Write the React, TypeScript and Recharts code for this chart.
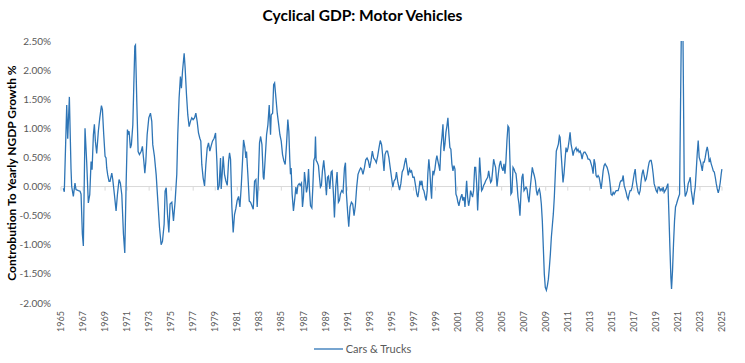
import { LineChart, Line, XAxis, YAxis, ReferenceLine } from 'recharts';

// decimal year of each observation
const dates = [
  1965.21, 1965.30, 1965.52, 1965.61, 1965.76, 1965.91, 1965.97, 1966.12, 1966.27, 1966.36,
  1966.58, 1966.73, 1966.82, 1966.94, 1967.03, 1967.18, 1967.33, 1967.48, 1967.61, 1967.73,
  1967.82, 1967.94, 1968.03, 1968.12, 1968.24, 1968.39, 1968.52, 1968.67, 1968.76, 1968.88,
  1969.00, 1969.09, 1969.15, 1969.24, 1969.36, 1969.45, 1969.61, 1969.70, 1969.85, 1970.00,
  1970.12, 1970.27, 1970.39, 1970.52, 1970.67, 1970.79, 1970.91, 1971.03, 1971.12, 1971.18,
  1971.30, 1971.39, 1971.52, 1971.61, 1971.70, 1971.76, 1971.88, 1972.00, 1972.12, 1972.27,
  1972.39, 1972.52, 1972.61, 1972.70, 1972.82, 1972.97, 1973.12, 1973.24, 1973.33, 1973.48,
  1973.64, 1973.79, 1973.94, 1974.09, 1974.21, 1974.36, 1974.45, 1974.55, 1974.67, 1974.79,
  1974.90, 1975.06, 1975.21, 1975.36, 1975.51, 1975.60, 1975.72, 1975.84, 1975.93, 1976.03,
  1976.18, 1976.27, 1976.39, 1976.51, 1976.63, 1976.75, 1976.87, 1976.99, 1977.12, 1977.24,
  1977.36, 1977.48, 1977.60, 1977.69, 1977.78, 1977.90, 1978.03, 1978.15, 1978.27, 1978.39,
  1978.51, 1978.63, 1978.75, 1978.90, 1979.03, 1979.15, 1979.24, 1979.36, 1979.48, 1979.54,
  1979.63, 1979.72, 1979.84, 1979.96, 1980.09, 1980.21, 1980.30, 1980.39, 1980.51, 1980.63,
  1980.75, 1980.87, 1980.99, 1981.12, 1981.24, 1981.36, 1981.48, 1981.57, 1981.69, 1981.78,
  1981.84, 1981.96, 1982.09, 1982.21, 1982.33, 1982.45, 1982.57, 1982.69, 1982.81, 1982.93,
  1983.02, 1983.12, 1983.24, 1983.36, 1983.42, 1983.54, 1983.66, 1983.78, 1983.90, 1984.02,
  1984.08, 1984.21, 1984.30, 1984.39, 1984.51, 1984.63, 1984.75, 1984.87, 1984.99, 1985.11,
  1985.23, 1985.35, 1985.47, 1985.59, 1985.68, 1985.77, 1985.83, 1985.89, 1985.98, 1986.10,
  1986.23, 1986.32, 1986.41, 1986.50, 1986.62, 1986.71, 1986.83, 1986.92, 1987.01, 1987.10,
  1987.19, 1987.28, 1987.37, 1987.47, 1987.56, 1987.65, 1987.77, 1987.86, 1987.95, 1988.04,
  1988.10, 1988.16, 1988.25, 1988.37, 1988.46, 1988.55, 1988.64, 1988.73, 1988.85, 1988.97,
  1989.09, 1989.19, 1989.28, 1989.40, 1989.52, 1989.61, 1989.73, 1989.82, 1989.94, 1990.06,
  1990.18, 1990.27, 1990.36, 1990.48, 1990.60, 1990.73, 1990.82, 1990.91, 1991.03, 1991.12,
  1991.24, 1991.36, 1991.48, 1991.60, 1991.72, 1991.84, 1991.96, 1992.08, 1992.20, 1992.29,
  1992.41, 1992.54, 1992.66, 1992.78, 1992.90, 1993.02, 1993.14, 1993.26, 1993.38, 1993.50,
  1993.62, 1993.74, 1993.86, 1993.98, 1994.10, 1994.19, 1994.32, 1994.41, 1994.53, 1994.64,
  1994.76, 1994.88, 1995.00, 1995.12, 1995.24, 1995.36, 1995.45, 1995.58, 1995.73, 1995.85,
  1995.97, 1996.09, 1996.21, 1996.30, 1996.42, 1996.52, 1996.64, 1996.73, 1996.82, 1996.94,
  1997.06, 1997.18, 1997.30, 1997.39, 1997.48, 1997.58, 1997.67, 1997.76, 1997.85, 1997.94,
  1998.06, 1998.15, 1998.24, 1998.30, 1998.39, 1998.48, 1998.58, 1998.64, 1998.70, 1998.76,
  1998.85, 1998.94, 1999.03, 1999.12, 1999.21, 1999.30, 1999.39, 1999.48, 1999.58, 1999.67,
  1999.76, 1999.85, 1999.94, 2000.03, 2000.12, 2000.21, 2000.30, 2000.39, 2000.48, 2000.58,
  2000.67, 2000.76, 2000.85, 2000.94, 2001.03, 2001.12, 2001.21, 2001.30, 2001.39, 2001.48,
  2001.58, 2001.67, 2001.76, 2001.82, 2001.91, 2002.00, 2002.09, 2002.18, 2002.27, 2002.36,
  2002.45, 2002.55, 2002.64, 2002.73, 2002.82, 2002.91, 2003.00, 2003.09, 2003.18, 2003.27,
  2003.36, 2003.45, 2003.55, 2003.64, 2003.73, 2003.82, 2003.91, 2004.00, 2004.09, 2004.18,
  2004.27, 2004.36, 2004.45, 2004.58, 2004.70, 2004.79, 2004.90, 2005.00, 2005.12, 2005.21,
  2005.30, 2005.39, 2005.48, 2005.57, 2005.66, 2005.75, 2005.84, 2005.93, 2006.03, 2006.12,
  2006.21, 2006.30, 2006.39, 2006.48, 2006.57, 2006.66, 2006.75, 2006.84, 2006.93, 2007.03,
  2007.12, 2007.21, 2007.30, 2007.39, 2007.48, 2007.57, 2007.69, 2007.78, 2007.87, 2007.96,
  2008.06, 2008.15, 2008.24, 2008.33, 2008.42, 2008.51, 2008.60, 2008.69, 2008.78, 2008.87,
  2008.96, 2009.06, 2009.15, 2009.24, 2009.33, 2009.42, 2009.51, 2009.60, 2009.69, 2009.78,
  2009.87, 2009.96, 2010.06, 2010.15, 2010.24, 2010.30, 2010.39, 2010.48, 2010.57, 2010.66,
  2010.75, 2010.84, 2010.93, 2011.03, 2011.12, 2011.21, 2011.30, 2011.39, 2011.48, 2011.57,
  2011.66, 2011.75, 2011.84, 2011.93, 2012.03, 2012.12, 2012.21, 2012.30, 2012.39, 2012.48,
  2012.57, 2012.66, 2012.75, 2012.84, 2012.93, 2013.03, 2013.12, 2013.21, 2013.30, 2013.39,
  2013.48, 2013.57, 2013.66, 2013.75, 2013.84, 2013.93, 2014.03, 2014.12, 2014.21, 2014.30,
  2014.39, 2014.48, 2014.57, 2014.66, 2014.75, 2014.84, 2014.93, 2015.03, 2015.12, 2015.21,
  2015.30, 2015.39, 2015.48, 2015.57, 2015.66, 2015.75, 2015.84, 2015.93, 2016.03, 2016.12,
  2016.21, 2016.30, 2016.39, 2016.48, 2016.57, 2016.66, 2016.75, 2016.84, 2016.93, 2017.03,
  2017.12, 2017.21, 2017.30, 2017.39, 2017.48, 2017.57, 2017.66, 2017.75, 2017.84, 2017.93,
  2018.03, 2018.12, 2018.21, 2018.30, 2018.39, 2018.48, 2018.57, 2018.66, 2018.75, 2018.84,
  2018.93, 2019.03, 2019.12, 2019.21, 2019.30, 2019.39, 2019.48, 2019.57, 2019.66, 2019.75,
  2019.84, 2019.93, 2020.03, 2020.09, 2020.18, 2020.27, 2020.36, 2020.42, 2020.51, 2020.60,
  2020.69, 2020.78, 2020.87, 2020.96, 2021.06, 2021.15, 2021.39, 2021.57, 2021.66, 2021.75,
  2021.84, 2021.93, 2022.03, 2022.12, 2022.21, 2022.30, 2022.39, 2022.48, 2022.57, 2022.66,
  2022.75, 2022.84, 2022.93, 2023.03, 2023.12, 2023.21, 2023.30, 2023.39, 2023.48, 2023.57,
  2023.66, 2023.75, 2023.84, 2023.93, 2024.02, 2024.12, 2024.21, 2024.30, 2024.39, 2024.48,
  2024.57, 2024.66, 2024.75, 2024.84, 2024.93, 2024.99,
];

// Cars & Trucks, contribution to yearly NGDP growth, in %
const carsTrucks = [
  -0.03, -0.09, 1.40, 0.82, 1.54, 0.30, 0.00, -0.17, 0.06, -0.05,
  -0.07, -0.08, -0.13, -0.82, -1.02, 1.00, 0.43, -0.28, -0.14, 0.43,
  0.29, 0.89, 1.07, 0.78, 0.57, 0.95, 1.18, 1.39, 1.32, 0.89,
  0.52, 0.49, 0.32, 0.20, 0.09, 0.09, 0.23, 0.12, -0.14, -0.42,
  -0.14, 0.12, 0.06, -0.14, -0.82, -1.14, 0.03, 0.98, 0.89, 0.95,
  0.66, 0.72, 1.06, 1.75, 2.41, 2.43, 1.46, 0.60, 0.55, 0.60,
  0.69, 0.43, 0.23, 0.43, 0.89, 1.18, 1.26, 1.12, 0.72, 0.52,
  0.20, -0.25, -0.70, -1.00, -0.94, -0.65, -0.08, -0.02, -0.48, -0.79,
  -0.30, -0.27, -0.59, -0.25, 0.21, 0.90, 1.52, 1.89, 1.69, 1.98,
  2.29, 2.03, 1.58, 1.23, 1.03, 1.12, 1.18, 1.15, 1.18, 1.26,
  1.12, 0.92, 0.83, 0.78, 0.38, 0.15, 0.01, 0.38, 0.66, 0.75,
  0.61, 0.70, 0.78, 0.83, 0.92, 0.43, -0.06, 0.02, 0.49, -0.04,
  0.21, 0.52, 0.21, 0.10, 0.02, 0.43, 0.58, 0.47, -0.35, -0.79,
  -0.48, -0.38, -0.24, -0.17, -0.35, 0.00, 0.45, 0.80, 0.67, 0.49,
  0.60, 0.21, -0.25, -0.27, -0.33, -0.39, 0.09, 0.12, -0.35, 0.22,
  0.75, 0.86, 0.72, 0.16, 0.12, 0.50, 0.89, 1.06, 1.40, 0.89,
  1.23, 1.26, 1.75, 1.78, 1.52, 1.26, 1.08, 0.89, 0.78, 0.55,
  0.44, 0.38, 0.72, 1.15, 0.95, 0.45, 0.21, 0.32, -0.13, -0.42,
  -0.19, -0.01, -0.13, 0.02, 0.05, 0.02, 0.06, -0.35, -0.18, 0.25,
  0.10, -0.10, -0.01, 0.30, -0.07, -0.33, -0.37, -0.01, 0.45, 0.50,
  0.86, 0.45, 0.42, 0.36, 0.16, -0.01, 0.02, 0.27, 0.45, 0.21,
  -0.15, 0.16, 0.18, -0.04, 0.25, 0.27, -0.13, -0.53, -0.01, 0.25,
  -0.27, -0.24, -0.13, -0.07, -0.10, 0.32, 0.41, -0.13, -0.47, -0.69,
  -0.35, -0.27, -0.30, -0.50, -0.33, -0.01, 0.21, 0.27, 0.32, 0.30,
  0.21, 0.32, 0.46, 0.49, 0.44, 0.32, 0.44, 0.61, 0.49, 0.46,
  0.41, 0.52, 0.66, 0.79, 0.72, 0.55, 0.27, 0.55, 0.61, 0.61,
  0.50, 0.33, 0.16, -0.01, 0.10, 0.13, 0.25, 0.07, -0.06, 0.05,
  0.25, 0.30, 0.42, 0.49, 0.33, 0.19, 0.30, 0.25, 0.27, 0.16,
  0.16, 0.02, -0.13, -0.18, -0.07, 0.10, 0.02, 0.10, -0.04, -0.07,
  -0.18, -0.24, -0.07, 0.22, 0.47, 0.27, -0.07, -0.21, 0.10, 0.27,
  0.22, 0.30, 0.44, 0.53, 0.44, 0.36, 0.27, 0.67, 0.85, 1.07,
  0.61, 0.73, 0.93, 1.04, 1.18, 0.90, 0.67, 0.64, 0.39, 0.27,
  0.36, 0.30, -0.13, -0.18, -0.27, -0.33, -0.24, -0.18, -0.13, -0.24,
  -0.18, -0.35, -0.07, 0.10, -0.18, -0.33, -0.24, -0.07, -0.13, -0.18,
  -0.07, 0.33, 0.33, 0.05, -0.41, -0.01, 0.50, 0.22, -0.07, -0.04,
  0.02, 0.05, 0.10, 0.13, 0.16, 0.27, 0.16, 0.07, 0.10, 0.27,
  0.47, 0.39, 0.33, 0.00, 0.22, 0.36, 0.44, 0.33, 0.27, 0.39,
  0.22, 0.45, 0.79, 1.04, 1.01, 0.45, -0.13, -0.10, 0.33, 0.30,
  0.25, 0.22, 0.05, -0.18, -0.30, -0.50, -0.13, 0.16, 0.22, -0.07,
  -0.04, -0.01, -0.04, -0.18, -0.27, -0.07, 0.16, 0.33, 0.25, 0.19,
  0.10, -0.07, -0.15, -0.07, -0.04, -0.13, -0.30, -0.59, -1.04, -1.50,
  -1.73, -1.78, -1.70, -1.59, -1.39, -1.16, -0.87, -0.67, -0.47, -0.18,
  0.22, 0.61, 0.67, 0.73, 0.87, 0.85, 0.59, 0.33, 0.07, 0.22,
  0.45, 0.67, 0.59, 0.67, 0.79, 0.93, 0.73, 0.64, 0.53, 0.61,
  0.64, 0.67, 0.61, 0.64, 0.59, 0.61, 0.56, 0.47, 0.56, 0.59,
  0.59, 0.56, 0.53, 0.47, 0.47, 0.45, 0.39, 0.33, 0.22, 0.47,
  0.39, 0.19, 0.16, 0.19, 0.16, 0.07, -0.04, 0.10, 0.27, 0.36,
  0.39, 0.36, 0.33, 0.27, 0.19, 0.05, -0.13, -0.15, -0.10, -0.13,
  -0.10, -0.07, -0.07, -0.07, -0.01, 0.07, 0.10, 0.10, 0.19, 0.02,
  -0.04, -0.10, -0.18, -0.22, -0.13, -0.07, -0.07, -0.01, 0.10, 0.22,
  0.30, 0.10, -0.01, -0.10, -0.13, -0.07, 0.10, 0.22, 0.29, 0.19,
  0.10, 0.13, 0.22, 0.33, 0.42, 0.45, 0.45, 0.36, 0.22, 0.05,
  -0.01, -0.07, -0.10, -0.01, -0.01, -0.07, -0.04, -0.07, -0.01, -0.10,
  -0.07, -0.04, 0.02, 0.05, -0.47, -1.04, -1.56, -1.76, -1.44, -0.98,
  -0.59, -0.35, -0.30, -0.24, -0.18, -0.13, 4.10, 0.10, -0.17, -0.13,
  -0.07, 0.05, 0.10, 0.16, -0.07, -0.18, -0.31, -0.13, -0.01, 0.27,
  0.56, 0.79, 0.50, 0.44, 0.36, 0.27, 0.42, 0.42, 0.50, 0.61,
  0.68, 0.59, 0.42, 0.47, 0.39, 0.33, 0.27, 0.25, 0.16, 0.05,
  -0.04, -0.11, -0.04, 0.07, 0.22, 0.30,
];

const yearTicks = [
  1965, 1967, 1969, 1971, 1973, 1975, 1977, 1979, 1981, 1983, 1985,
  1987, 1989, 1991, 1993, 1995, 1997, 1999, 2001, 2003, 2005, 2007,
  2009, 2011, 2013, 2015, 2017, 2019, 2021, 2023, 2025,
];
const pctTicks = [-2, -1.5, -1, -0.5, 0, 0.5, 1, 1.5, 2, 2.5];

const chartData = dates.map((date, i) => ({ date, value: carsTrucks[i] }));

const FONT = 'Lato, "Open Sans", sans-serif';
const BLUE = '#2E75B6';
const GREY_TEXT = '#595959';

function YearTick({ x, y, payload }: any) {
  return (
    <text
      x={x}
      y={y}
      dy="0.35em"
      transform={`rotate(-90 ${x} ${y})`}
      textAnchor="end"
      fill={GREY_TEXT}
      fontSize={9}
      fontFamily={FONT}
    >
      {payload.value}
    </text>
  );
}

function YLabel() {
  return (
    <text
      x={11}
      y={173}
      transform="rotate(-90 11 173)"
      textAnchor="middle"
      dominantBaseline="central"
      fontSize={12}
      fontWeight={700}
      fontFamily={FONT}
      fill="#000"
    >
      Controbution To Yearly NGDP Growth %
    </text>
  );
}

export default function App() {
  return (
    <div
      style={{
        position: 'absolute',
        left: 0,
        top: 0,
        width: 745,
        height: 363,
        background: '#fff',
        fontFamily: FONT,
      }}
    >
      <div
        style={{
          position: 'absolute',
          top: 6,
          left: 0,
          width: 725,
          textAlign: 'center',
          fontSize: 15.5,
          fontWeight: 700,
          color: '#000',
        }}
      >
        Cyclical GDP: Motor Vehicles
      </div>

      <LineChart
        width={745}
        height={363}
        data={chartData}
        margin={{ top: 41, right: 23, bottom: 0, left: 0 }}
      >
        <XAxis
          dataKey="date"
          type="number"
          domain={[1965, 2025]}
          ticks={yearTicks}
          interval={0}
          axisLine={false}
          tickLine={false}
          tickSize={0}
          tickMargin={8}
          height={60}
          tick={<YearTick />}
        />
        <YAxis
          type="number"
          domain={[-2, 2.5]}
          ticks={pctTicks}
          allowDataOverflow
          axisLine={false}
          tickLine={false}
          tickSize={0}
          tickMargin={10}
          width={61}
          tickFormatter={(v: number) => `${v.toFixed(2)}%`}
          tick={{ fontSize: 10, fill: GREY_TEXT, fontFamily: FONT }}
          label={{ content: <YLabel /> }}
        />
        <ReferenceLine y={0} stroke="#d9d9d9" strokeWidth={1} />
        {yearTicks.map((yr) => (
          <ReferenceLine
            key={yr}
            segment={[
              { x: yr, y: 0 },
              { x: yr, y: -0.07 },
            ]}
            stroke="#d9d9d9"
            strokeWidth={1}
          />
        ))}
        <Line
          type="linear"
          dataKey="value"
          name="Cars & Trucks"
          stroke={BLUE}
          strokeWidth={1.3}
          dot={false}
          activeDot={false}
          isAnimationActive={false}
        />
      </LineChart>

      {/* legend */}
      <div
        style={{
          position: 'absolute',
          top: 342,
          left: 0,
          width: 725,
          display: 'flex',
          justifyContent: 'center',
          alignItems: 'center',
          gap: 3,
          fontSize: 11,
          color: GREY_TEXT,
        }}
      >
        <svg width={29} height={4}>
          <line x1={0} y1={2} x2={29} y2={2} stroke={BLUE} strokeWidth={1.3} />
        </svg>
        <span>Cars &amp; Trucks</span>
      </div>
    </div>
  );
}
